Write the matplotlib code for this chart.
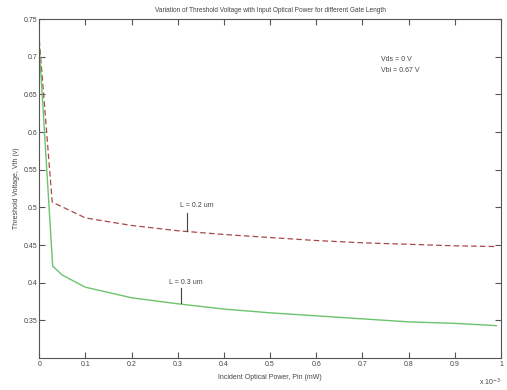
import matplotlib
matplotlib.use("Agg")
import matplotlib.pyplot as plt
from matplotlib import font_manager

names = {f.name for f in font_manager.fontManager.ttflist}
fam = ["Liberation Sans Narrow", "Liberation Sans", "DejaVu Sans"]
fam = [f for f in fam if f in names] or ["DejaVu Sans"]
plt.rcParams['font.family'] = fam

# Data (x in units of 1e-3 mW)
x_02 = [0, 0.028, 0.1, 0.2, 0.3, 0.4, 0.5, 0.6, 0.7, 0.8, 0.9, 0.99]
vth_02 = [0.722, 0.507, 0.486, 0.476, 0.469, 0.464, 0.460, 0.456, 0.453, 0.451, 0.449, 0.448]
x_03 = [0, 0.029, 0.05, 0.1, 0.2, 0.3, 0.4, 0.5, 0.6, 0.7, 0.8, 0.9, 0.99]
vth_03 = [0.713, 0.422, 0.410, 0.394, 0.380, 0.372, 0.365, 0.360, 0.356, 0.352, 0.348, 0.346, 0.343]

xticks = [0, 0.1, 0.2, 0.3, 0.4, 0.5, 0.6, 0.7, 0.8, 0.9, 1]
xticklabels = ["0", "0.1", "0.2", "0.3", "0.4", "0.5", "0.6", "0.7", "0.8", "0.9", "1"]
yticks = [0.35, 0.4, 0.45, 0.5, 0.55, 0.6, 0.65, 0.7, 0.75]
yticklabels = ["0.35", "0.4", "0.45", "0.5", "0.55", "0.6", "0.65", "0.7", "0.75"]

tc = "#444444"
fs = 5.0
fig = plt.figure(figsize=(5.07, 3.9), dpi=100)
ax = fig.add_axes([0.0775, 0.082, 0.9105, 0.869])
ax.plot(x_02, vth_02, color="#a8484a", lw=0.9, ls=(0, (4.5, 2.5)))
ax.plot(x_03, vth_03, color="#6cc46c", lw=1.0)

ax.set_xlim(0, 1)
ax.set_ylim(0.3, 0.75)
ax.set_xticks(xticks)
ax.set_xticklabels(xticklabels)
ax.set_yticks(yticks)
ax.set_yticklabels(yticklabels)
ax.tick_params(direction="in", top=True, right=True, length=4, width=0.8,
               labelsize=fs, colors="#555555", labelcolor=tc)
ax.tick_params(axis="x", pad=2.5)
ax.tick_params(axis="y", pad=1.5)
for s in ax.spines.values():
    s.set_color("#555555")
    s.set_linewidth(0.8)

ax.set_title("Variation of Threshold Voltage with Input Optical Power for different Gate Length",
             fontsize=4.7, color=tc, pad=5)
ax.set_xlabel("Incident Optical Power, Pin (mW)", fontsize=fs, color=tc, labelpad=4)
ax.set_ylabel("Threshold Voltage, Vth (v)", fontsize=fs, color=tc, labelpad=2.5)

ax.text(0.74, 0.696, "Vds = 0 V", fontsize=fs, color=tc, va="center")
ax.text(0.74, 0.682, "Vbi = 0.67 V", fontsize=fs, color=tc, va="center")

ax.text(0.304, 0.503, "L = 0.2 um", fontsize=fs, color=tc, va="center")
ax.plot([0.32, 0.32], [0.492, 0.469], color="#444444", lw=0.8)
ax.text(0.282, 0.400, "L = 0.3 um", fontsize=fs, color=tc, va="center")
ax.plot([0.307, 0.307], [0.393, 0.373], color="#444444", lw=0.8)

ax.text(1.0, -0.055, r"x 10$^{-3}$", transform=ax.transAxes, fontsize=fs, color=tc,
        ha="right", va="top")

fig.savefig("out.png", dpi=100, facecolor="white")
